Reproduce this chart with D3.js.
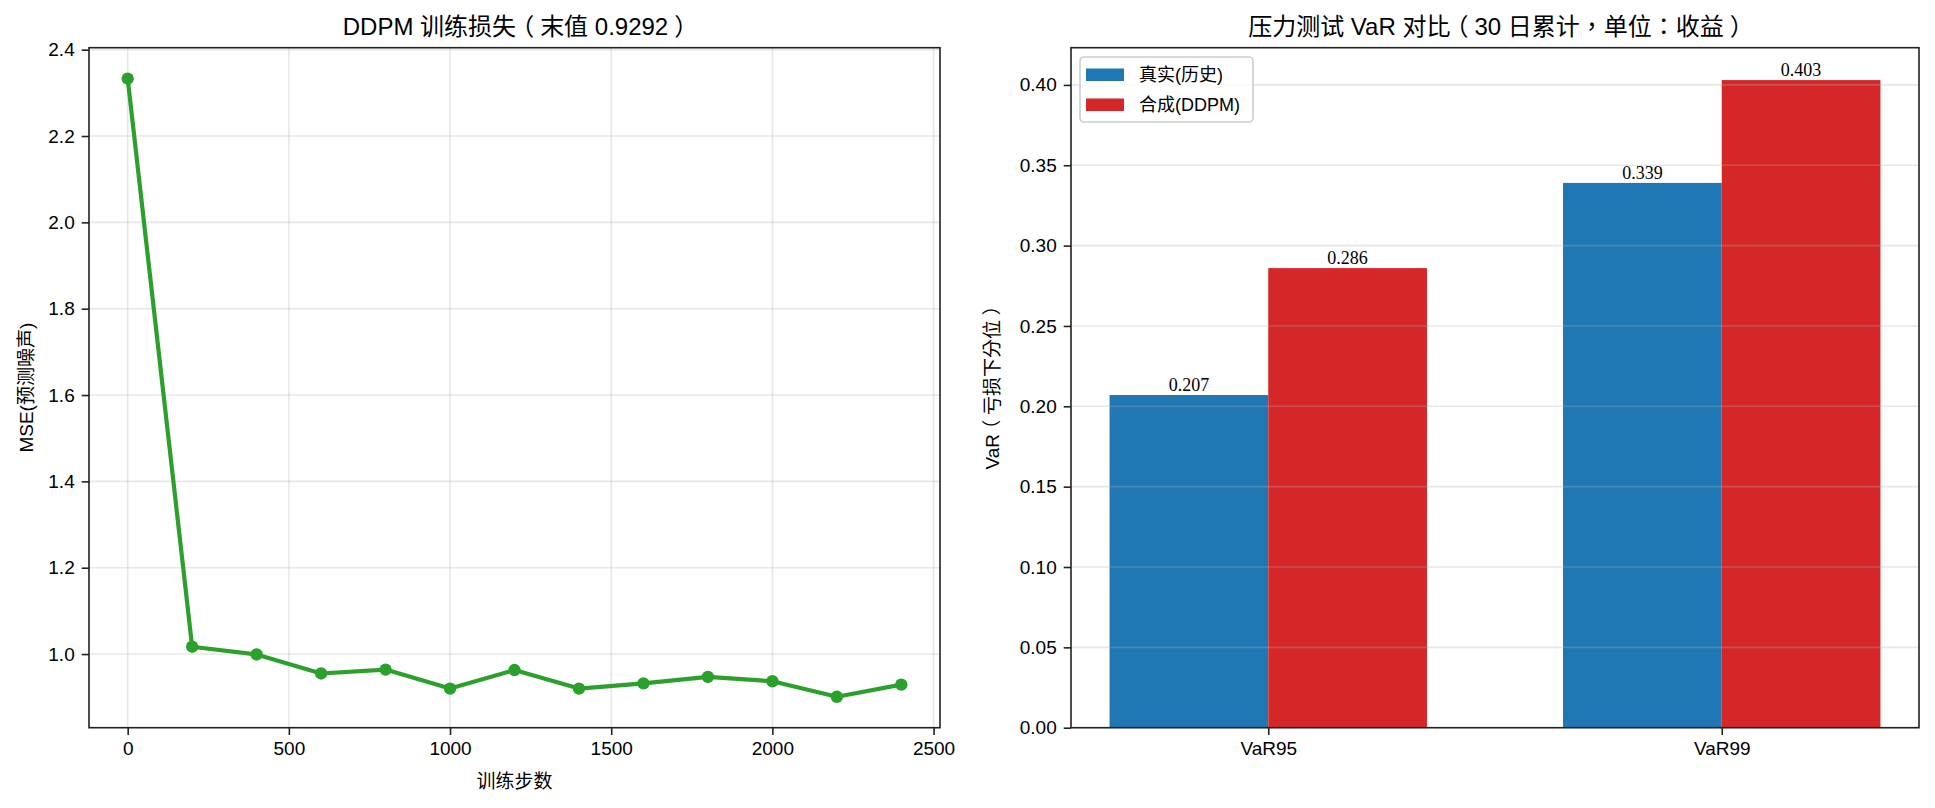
<!DOCTYPE html>
<html>
<head>
<meta charset="utf-8">
<script src="https://cdn.jsdelivr.net/npm/d3@7"></script>
<style>
  body { margin: 0; background: #fff; }
  svg text { font-family: "Liberation Sans", Arial, "Noto Sans CJK TC", sans-serif; fill: #000; }
  .domain { stroke: #222; stroke-width: 1.6; }
  .tick line { stroke: #222; stroke-width: 1.6; }
  .halfp { font-feature-settings: "halt"; }
</style>
</head>
<body>
<svg id="chart" width="1935" height="808"></svg>
<script>
// loss curve data
const steps = [0, 200, 400, 600, 800, 1000, 1200, 1400, 1600, 1800, 2000, 2200, 2400];
const loss = [2.333, 1.017, 0.999, 0.955, 0.964, 0.920, 0.963, 0.920, 0.932, 0.947, 0.937, 0.901, 0.9292];
const lossTicksX = [0, 500, 1000, 1500, 2000, 2500];
const lossTicksY = [1.0, 1.2, 1.4, 1.6, 1.8, 2.0, 2.2, 2.4];

// VaR comparison data
const varCategories = ["VaR95", "VaR99"];
const varReal = [0.207, 0.339];
const varSynth = [0.286, 0.403];
const seriesNames = ["真实(历史)", "合成(DDPM)"];
const varTicksY = [0, 0.05, 0.10, 0.15, 0.20, 0.25, 0.30, 0.35, 0.40];

const svg = d3.select('#chart');
const tickFont = 19;

// full width parens drawn centred in their box (half width glyph + space each side)
function cjkText(t, str, size) {
  const sh = size * 0.25;
  let pending = 0;
  str.split(/([（）])/).filter(s => s.length).forEach(part => {
    const sp = t.append('tspan').text(part);
    if (part === '（' || part === '）') {
      sp.attr('class', 'halfp').attr('dx', pending + sh);
      pending = sh;
    } else if (pending) { sp.attr('dx', pending); pending = 0; }
  });
  return t;
}

// ---------- left : training loss ----------
const left = {x0: 89, x1: 940, y0: 47.7, y1: 727.7};
const lg = svg.append('g').attr('id', 'loss_plot');

// 5% margins like matplotlib autoscale
const xr = d3.extent(steps), yr = d3.extent(loss);
const xpad = (xr[1] - xr[0]) * 0.05, ypad = (yr[1] - yr[0]) * 0.05;
const x1 = d3.scaleLinear().domain([xr[0] - xpad, xr[1] + xpad]).range([left.x0, left.x1]);
const y1 = d3.scaleLinear().domain([yr[0] - ypad, yr[1] + ypad]).range([left.y1, left.y0]);

// grid
lg.append('g').selectAll('line').data(lossTicksX).enter().append('line')
  .attr('x1', d => x1(d)).attr('x2', d => x1(d)).attr('y1', left.y0).attr('y2', left.y1)
  .attr('stroke', '#b0b0b0').attr('stroke-opacity', 0.3).attr('stroke-width', 1.6);
lg.append('g').selectAll('line').data(lossTicksY).enter().append('line')
  .attr('y1', d => y1(d)).attr('y2', d => y1(d)).attr('x1', left.x0).attr('x2', left.x1)
  .attr('stroke', '#b0b0b0').attr('stroke-opacity', 0.3).attr('stroke-width', 1.6);

// line + markers
const pts = steps.map((s, i) => ({s: s, v: loss[i]}));
lg.append('path').datum(pts)
  .attr('d', d3.line().x(d => x1(d.s)).y(d => y1(d.v)))
  .attr('fill', 'none').attr('stroke', '#2ca02c').attr('stroke-width', 4.2).attr('stroke-linejoin', 'round');
lg.append('g').selectAll('circle').data(pts).enter().append('circle')
  .attr('cx', d => x1(d.s)).attr('cy', d => y1(d.v)).attr('r', 6.2).attr('fill', '#2ca02c');

// axes
lg.append('g').attr('transform', 'translate(0,' + left.y1 + ')')
  .call(d3.axisBottom(x1).tickValues(lossTicksX).tickSize(7.3).tickPadding(7).tickSizeOuter(0).tickFormat(d3.format('d')))
  .call(g => g.select('.domain').remove())
  .selectAll('text').style('font-size', tickFont + 'px');
lg.append('g').attr('transform', 'translate(' + left.x0 + ',0)')
  .call(d3.axisLeft(y1).tickValues(lossTicksY).tickSize(7.3).tickPadding(7).tickSizeOuter(0).tickFormat(d3.format('.1f')))
  .call(g => g.select('.domain').remove())
  .selectAll('text').style('font-size', tickFont + 'px');
lg.append('rect').attr('x', left.x0).attr('y', left.y0)
  .attr('width', left.x1 - left.x0).attr('height', left.y1 - left.y0)
  .attr('fill', 'none').attr('stroke', '#222').attr('stroke-width', 1.6);

cjkText(lg.append('text')
  .attr('x', (left.x0 + left.x1) / 2).attr('y', 35).attr('text-anchor', 'middle').style('font-size', '24px'),
  'DDPM 训练损失（末值 0.9292）', 24);
lg.append('text').text('训练步数')
  .attr('x', (left.x0 + left.x1) / 2).attr('y', 788).attr('text-anchor', 'middle').style('font-size', tickFont + 'px');
lg.append('text').text('MSE(预测噪声)')
  .attr('transform', 'translate(33,' + ((left.y0 + left.y1) / 2) + ') rotate(-90)')
  .attr('text-anchor', 'middle').style('font-size', tickFont + 'px');

// ---------- right : VaR bars ----------
const right = {x0: 1071, x1: 1919, y0: 47.7, y1: 727.7};
const rg = svg.append('g').attr('id', 'var_plot');
const bw = 0.35;
const bpad = ((varCategories.length - 1) + 2 * bw) * 0.05;
const x2 = d3.scaleLinear().domain([-bw - bpad, varCategories.length - 1 + bw + bpad]).range([right.x0, right.x1]);
const yMax = d3.max(varReal.concat(varSynth)) * 1.05;
const y2 = d3.scaleLinear().domain([0, yMax]).range([right.y1, right.y0]);

const bars = [];
varCategories.forEach((c, i) => {
  bars.push({i: i, off: -bw, v: varReal[i], color: '#1f77b4'});
  bars.push({i: i, off: 0, v: varSynth[i], color: '#d62728'});
});
rg.append('g').selectAll('rect').data(bars).enter().append('rect')
  .attr('x', d => x2(d.i + d.off)).attr('width', d => x2(d.i + d.off + bw) - x2(d.i + d.off))
  .attr('y', d => y2(d.v)).attr('height', d => y2(0) - y2(d.v))
  .attr('fill', d => d.color);

// y grid above the bars
rg.append('g').selectAll('line').data(varTicksY).enter().append('line')
  .attr('y1', d => y2(d)).attr('y2', d => y2(d)).attr('x1', right.x0).attr('x2', right.x1)
  .attr('stroke', '#b0b0b0').attr('stroke-opacity', 0.3).attr('stroke-width', 1.6);

rg.append('g').selectAll('text').data(bars).enter().append('text')
  .text(d => d3.format('.3f')(d.v))
  .attr('x', d => x2(d.i + d.off + bw / 2)).attr('y', d => y2(d.v) - 4)
  .attr('text-anchor', 'middle')
  .style('font-family', '"Liberation Serif", "Times New Roman", serif').style('font-size', '18px');

rg.append('g').attr('transform', 'translate(0,' + right.y1 + ')')
  .call(d3.axisBottom(x2).tickValues(d3.range(varCategories.length)).tickSize(7.3).tickPadding(7).tickSizeOuter(0)
    .tickFormat(i => varCategories[i]))
  .call(g => g.select('.domain').remove())
  .selectAll('text').style('font-size', tickFont + 'px');
rg.append('g').attr('transform', 'translate(' + right.x0 + ',0)')
  .call(d3.axisLeft(y2).tickValues(varTicksY).tickSize(7.3).tickPadding(7).tickSizeOuter(0).tickFormat(d3.format('.2f')))
  .call(g => g.select('.domain').remove())
  .selectAll('text').style('font-size', tickFont + 'px');
rg.append('rect').attr('x', right.x0).attr('y', right.y0)
  .attr('width', right.x1 - right.x0).attr('height', right.y1 - right.y0)
  .attr('fill', 'none').attr('stroke', '#222').attr('stroke-width', 1.6);

cjkText(rg.append('text')
  .attr('x', (right.x0 + right.x1) / 2).attr('y', 35).attr('text-anchor', 'middle').style('font-size', '24px'),
  '压力测试 VaR 对比（30 日累计，单位：收益）', 24);
cjkText(rg.append('text')
  .attr('transform', 'translate(999,' + ((right.y0 + right.y1) / 2) + ') rotate(-90)')
  .attr('text-anchor', 'middle').style('font-size', tickFont + 'px'),
  'VaR（亏损下分位）', tickFont);

// legend
const leg = rg.append('g').attr('transform', 'translate(1080,57)');
leg.append('rect').attr('width', 173).attr('height', 65).attr('rx', 4)
  .attr('fill', '#fff').attr('fill-opacity', 0.8).attr('stroke', '#cccccc').attr('stroke-width', 1.6);
[['#1f77b4', seriesNames[0]], ['#d62728', seriesNames[1]]].forEach((s, i) => {
  leg.append('rect').attr('x', 6).attr('y', 11.5 + i * 30).attr('width', 38).attr('height', 12.5).attr('fill', s[0]);
  leg.append('text').text(s[1]).attr('x', 59).attr('y', 24 + i * 30).style('font-size', '18px');
});
</script>
</body>
</html>
